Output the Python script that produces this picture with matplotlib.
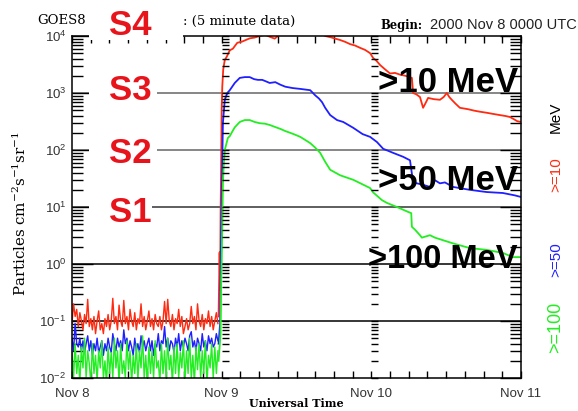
import numpy as np
import matplotlib
matplotlib.use("Agg")
import matplotlib.pyplot as plt
from matplotlib.patches import Rectangle
from matplotlib.ticker import LogLocator, FixedLocator, FixedFormatter, MultipleLocator, NullFormatter

# ---------------------------------------------------------------------------
# Daten (Stunden ab 2000 Nov 8 00:00 UTC, Fluss in pfu)
# ---------------------------------------------------------------------------
quiet_red = [0.09, 0.20, 0.12, 0.16, 0.08, 0.14, 0.10, 0.07, 0.13, 0.09, 0.24, 0.08, 0.11, 0.07,
             0.12, 0.06, 0.10, 0.15, 0.07, 0.09, 0.06, 0.11, 0.08, 0.13, 0.07, 0.10, 0.25, 0.09,
             0.12, 0.07, 0.19, 0.10, 0.08, 0.23, 0.09, 0.12, 0.07, 0.16, 0.10, 0.08, 0.14, 0.07,
             0.11, 0.09, 0.20, 0.08, 0.12, 0.07, 0.10, 0.15, 0.08, 0.11, 0.07, 0.13, 0.09, 0.08,
             0.12, 0.07, 0.10, 0.22, 0.09, 0.24, 0.10, 0.08, 0.13, 0.07, 0.11, 0.09, 0.16, 0.08,
             0.12, 0.06, 0.08, 0.11, 0.07, 0.09, 0.18, 0.09, 0.12, 0.07, 0.20, 0.10, 0.08, 0.13,
             0.07, 0.11, 0.09, 0.15, 0.08, 0.12, 0.07, 0.10, 0.14, 0.09]
quiet_blue = [0.05, 0.03, 0.09, 0.04, 0.035, 0.05, 0.03, 0.045, 0.028, 0.04, 0.055, 0.03, 0.045,
              0.025, 0.04, 0.03, 0.05, 0.028, 0.035, 0.045, 0.025, 0.04, 0.03, 0.05, 0.035, 0.028,
              0.06, 0.04, 0.03, 0.05, 0.035, 0.045, 0.03, 0.07, 0.04, 0.05, 0.03, 0.045, 0.035,
              0.025, 0.05, 0.03, 0.04, 0.028, 0.055, 0.035, 0.045, 0.03, 0.04, 0.05, 0.03, 0.045,
              0.025, 0.04, 0.035, 0.06, 0.03, 0.045, 0.04, 0.08, 0.035, 0.05, 0.03, 0.045, 0.04,
              0.028, 0.05, 0.035, 0.06, 0.03, 0.045, 0.035, 0.05, 0.04, 0.03, 0.055, 0.065, 0.035,
              0.045, 0.03, 0.05, 0.04, 0.03, 0.06, 0.035, 0.045, 0.03, 0.055, 0.04, 0.05, 0.035,
              0.04, 0.06, 0.045]
quiet_green = [0.03, 0.01, 0.04, 0.012, 0.025, 0.008, 0.035, 0.015, 0.05, 0.01, 0.03, 0.018, 0.008,
               0.04, 0.012, 0.025, 0.009, 0.03, 0.015, 0.045, 0.01, 0.02, 0.008, 0.035, 0.012,
               0.028, 0.01, 0.05, 0.015, 0.03, 0.008, 0.04, 0.012, 0.02, 0.01, 0.045, 0.014, 0.03,
               0.008, 0.025, 0.012, 0.04, 0.009, 0.03, 0.015, 0.055, 0.01, 0.025, 0.008, 0.035,
               0.012, 0.03, 0.01, 0.045, 0.015, 0.02, 0.008, 0.04, 0.012, 0.03, 0.01, 0.05, 0.014,
               0.025, 0.008, 0.035, 0.012, 0.04, 0.01, 0.028, 0.015, 0.045, 0.009, 0.03, 0.012,
               0.05, 0.01, 0.025, 0.008, 0.035, 0.014, 0.04, 0.01, 0.03, 0.012, 0.045, 0.008,
               0.025, 0.015, 0.04, 0.01, 0.035, 0.012, 0.03]
quiet_end = 23.4

red_h = [23.5, 23.67, 23.75, 23.83, 23.92, 24.0, 24.1, 24.25, 24.5, 24.8, 25.3, 25.8, 26.5, 27.3,
         28.5, 29.3, 30.1, 31.0, 31.8, 32.5, 33.2, 34.0, 36.0, 38.0, 40.0, 40.6, 41.5, 42.2, 43.0,
         43.8, 44.6, 45.4, 46.2, 47.0, 47.8, 48.3, 48.8, 49.4, 50.2, 51.0, 51.8, 52.6, 53.5, 54.5,
         54.7, 55.2, 55.8, 56.3, 56.8, 57.1, 58.0, 59.0, 59.6, 60.1, 60.5, 60.9, 61.5, 62.2, 63.5,
         64.5, 65.4, 66.5, 67.5, 68.6, 69.5, 70.2, 70.8, 71.4, 72.0]
red_v = [0.12, 1.6, 0.35, 8, 60, 500, 1300, 2600, 3800, 4300, 5600, 6000, 7600, 8000,
         9100, 9400, 10000, 10500, 9600, 9000, 10300, 11000, 12500, 13000, 11000, 10000, 9500, 9000,
         8500, 7900, 7200, 6800, 6200, 5700, 5000, 4100, 3700, 3100, 2600, 2200, 2250, 2100, 2000,
         1840, 1000, 950, 850, 550, 700, 820, 780, 760, 850, 1000, 850, 760, 650, 550, 520,
         490, 470, 450, 430, 410, 395, 380, 350, 320, 310]

blue_h = [23.5, 23.75, 23.83, 23.92, 24.0, 24.1, 24.2, 24.5, 24.9, 25.3, 26.1, 26.9, 27.7, 28.5,
          29.2, 29.8, 30.5, 31.1, 31.7, 32.6, 33.4, 34.2, 35.4, 36.6, 38.2, 39.0, 39.6, 40.1, 40.6,
          41.4, 42.5, 43.5, 45.1, 46.6, 47.8, 48.9, 49.9, 51.5, 53.1, 54.2, 54.7, 56.3, 57.4, 58.2,
          59.0, 59.8, 61.1, 63.8, 66.5, 69.1, 71.0, 72.0]
blue_v = [0.04, 0.09, 0.8, 4, 13, 60, 300, 760, 1000, 1120, 1500, 1840, 1900, 1900,
          1750, 1700, 1700, 1600, 1500, 1550, 1400, 1290, 1220, 1180, 1120, 910, 800, 690, 550,
          410, 335, 310, 245, 190, 170, 138, 105, 89, 76, 66, 27, 24.5, 22.5, 29.5,
          26, 27, 22.5, 20, 18.3, 17.6, 16, 15]

green_h = [23.5, 23.83, 23.92, 24.0, 24.1, 24.2, 24.35, 24.5, 25.0, 25.3, 25.7, 26.1, 26.9, 27.7,
           28.5, 29.3, 30.1, 30.9, 31.7, 32.5, 33.4, 34.2, 35.0, 35.8, 36.6, 37.4, 38.2, 39.0, 39.8,
           40.6, 41.4, 43.0, 45.1, 47.8, 48.3, 49.7, 50.5, 52.1, 53.9, 54.4, 54.5, 55.0, 55.8, 56.1,
           57.4, 58.2, 61.1, 63.8, 66.5, 69.1, 70.7, 72.0]
green_v = [0.02, 0.06, 0.5, 1.0, 5, 26, 60, 100, 163, 175, 210, 250, 310, 335,
           335, 310, 295, 290, 275, 255, 235, 215, 200, 185, 170, 150, 132, 110, 89,
           62, 45, 36, 30, 21.5, 18, 13.2, 11.8, 10, 8.2, 7.8, 4.5, 4.0, 3.2, 2.9,
           3.2, 2.9, 2.3, 1.9, 1.77, 1.56, 1.32, 1.32]

day_ticks = [0, 24, 48, 72]
day_labels = ["Nov 8", "Nov 9", "Nov 10", "Nov 11"]
thresholds_dark = [1e-1, 1e0]
thresholds_grey = [1e1, 1e2, 1e3]

RED, BLUE, GREEN = "#ff2a10", "#1f1fff", "#22ee22"
W, H = 578, 411


def fx(x):
    return x / W


def fy(y):
    return 1 - y / H


def log_ticks(a):
    a.yaxis.set_major_locator(LogLocator(base=10, numticks=20))
    a.yaxis.set_minor_locator(LogLocator(base=10, subs=np.arange(2, 10), numticks=100))
    a.yaxis.set_minor_formatter(NullFormatter())


fig = plt.figure(figsize=(W / 100, H / 100), dpi=100)
ax = fig.add_axes([fx(72), fy(378), 449 / W, 342 / H])

for vals, col in [(quiet_red, RED), (quiet_blue, BLUE), (quiet_green, GREEN)]:
    t = np.linspace(0, quiet_end, len(vals))
    ax.plot(t, vals, color=col, lw=1.0, zorder=2)

ax.plot(red_h, red_v, color=RED, lw=1.3, zorder=2)
ax.plot(blue_h, blue_v, color=BLUE, lw=1.3, zorder=2)
ax.plot(green_h, green_v, color=GREEN, lw=1.3, zorder=2)

for v in thresholds_dark:
    ax.axhline(v, color="black", lw=1.1, zorder=1.5)
for v in thresholds_grey:
    ax.axhline(v, color="#666666" if v > 10 else "#333333", lw=1.1, zorder=1.5)

ax.set_yscale("log")
ax.set_ylim(1e-2, 1e4)
ax.set_xlim(0, 72)
log_ticks(ax)
ax.xaxis.set_major_locator(FixedLocator(day_ticks))
ax.xaxis.set_major_formatter(FixedFormatter(day_labels))
ax.xaxis.set_minor_locator(MultipleLocator(3))

ax.tick_params(axis="y", which="major", direction="in", length=15, width=1,
               left=True, right=True, labelsize=9.5, labelcolor="#333333", pad=4)
ax.tick_params(axis="y", which="minor", direction="in", length=8, width=1, left=True, right=True)
ax.tick_params(axis="x", which="both", direction="in", length=5, width=1,
               top=True, bottom=True, labelsize=9.5, labelcolor="#333333", pad=7)
for lab in ax.get_xticklabels() + ax.get_yticklabels():
    lab.set_family("Liberation Sans")
for s in ax.spines.values():
    s.set_linewidth(1.1)

# Tickspalten an den Tagesgrenzen (Nov 9, Nov 10)
for day in day_ticks[1:3]:
    col = ax.inset_axes([day / 72, 0, 1e-4, 1])
    col.set_yscale("log")
    col.set_ylim(ax.get_ylim())
    log_ticks(col)
    col.set_frame_on(False)
    col.patch.set_visible(False)
    col.set_xticks([])
    col.tick_params(axis="y", which="both", direction="in", length=5, width=1,
                    left=True, right=False, labelleft=False, labelright=False)

# Titel und Beschriftungen
fig.text(fx(37), fy(24), "GOES8", family="DejaVu Serif", fontsize=9.5, va="baseline")
fig.text(fx(183), fy(25), ": (5 minute data)", family="DejaVu Serif", fontsize=9.5, va="baseline")
fig.text(fx(380), fy(29), "Begin:", family="DejaVu Serif", fontweight="bold", fontsize=8.3,
         va="baseline")
fig.text(fx(430), fy(29), "2000 Nov 8 0000 UTC", family="Liberation Sans", fontsize=10.5,
         va="baseline", color="#222222")
fig.text(fx(20), fy(213), "Particles cm$\\mathdefault{^{-2}}$s$\\mathdefault{^{-1}}$sr$\\mathdefault{^{-1}}$",
         family="DejaVu Serif", fontsize=10.8, rotation=90, ha="center", va="center")
fig.text(fx(296), fy(403), "Universal Time", family="DejaVu Serif", fontweight="bold",
         fontsize=8, ha="center", va="center")

for txt, col, yc, fs in [("MeV", "black", 117, 11), (">=10", RED, 175, 11),
                         (">=50", BLUE, 260, 11), (">=100", GREEN, 327, 13)]:
    fig.text(fx(556), fy(yc), txt, color=col, family="Liberation Sans", fontsize=fs,
             rotation=90, ha="center", va="center")

# S-Skala mit weißen Kästen
for x0, y0, x1, y1 in [(89, 0, 183, 40), (89, 70, 157, 104), (89, 133, 157, 167), (89, 192, 152, 226)]:
    fig.add_artist(Rectangle((fx(x0), fy(y1)), (x1 - x0) / W, (y1 - y0) / H,
                             transform=fig.transFigure, facecolor="white", edgecolor="none",
                             zorder=3))
for txt, yb in [("S4", 35), ("S3", 100), ("S2", 163), ("S1", 222)]:
    fig.text(fx(109), fy(yb), txt, color="#e8141c", family="Liberation Sans", fontweight="bold",
             fontsize=25, va="baseline", ha="left", zorder=4)

for txt, yb, fs in [(">10 MeV", 92, 25), (">50 MeV", 190, 25), (">100 MeV", 268, 23.5)]:
    fig.text(fx(518), fy(yb), txt, color="black", family="Liberation Sans", fontweight="bold",
             fontsize=fs, va="baseline", ha="right", zorder=4)

fig.savefig("out.png", dpi=100)
